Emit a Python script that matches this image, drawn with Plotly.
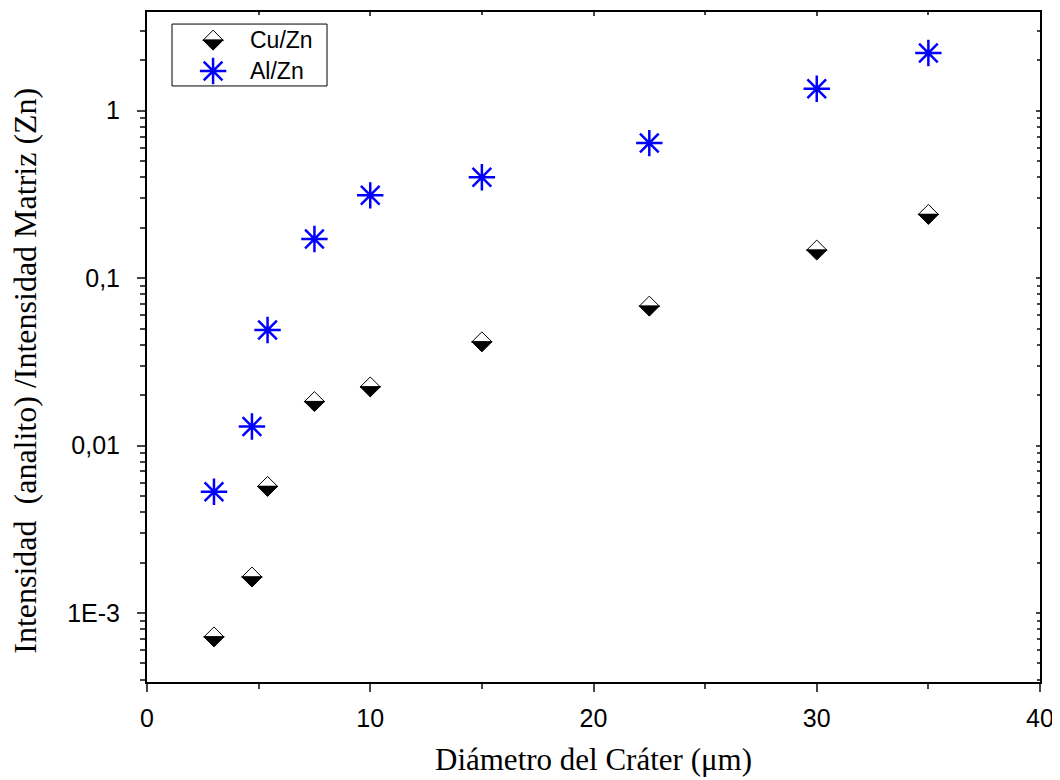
import plotly.graph_objects as go

# crater diameter (um)
diametro = [3, 4.7, 5.4, 7.5, 10, 15, 22.5, 30, 35]
# intensity ratios analyte / matrix (Zn)
cu_zn = [7.2e-4, 1.64e-3, 5.7e-3, 0.0183, 0.0224, 0.0416, 0.068, 0.147, 0.24]
al_zn = [5.3e-3, 0.013, 0.049, 0.171, 0.312, 0.40, 0.64, 1.35, 2.21]

y_tickvals = [1e-3, 1e-2, 1e-1, 1]
y_ticktext = ["1E-3", "0,01", "0,1", "1"]
x_tickvals = [0, 10, 20, 30, 40]
series_names = ["Cu/Zn", "Al/Zn"]

YRANGE = [-3.412, 0.589]
XRANGE = [0, 40]
MARGIN = dict(l=139, r=28, t=4, b=106)
PLOT_H = 780 - MARGIN['t'] - MARGIN['b']

# half-filled diamond: two right triangles rotated 45deg (white top, black bottom).
# plotly centres triangles on their centroid, so nudge each half by 0.4*r px
DIAM_SIZE = 16
half_px = 0.4 * DIAM_SIZE / 2
px_per_decade = PLOT_H / (YRANGE[1] - YRANGE[0])
log_nudge = 10 ** (half_px / px_per_decade)

fig = go.Figure()


def diamond_halves(x, y_top, y_bot, xaxis='x', yaxis='y'):
    top = go.Scatter(
        x=x, y=y_top, mode='markers', showlegend=False, xaxis=xaxis, yaxis=yaxis,
        marker=dict(symbol='triangle-nw', angle=45, size=DIAM_SIZE, color='white',
                    line=dict(color='black', width=1)),
        hoverinfo='skip',
    )
    bottom = go.Scatter(
        x=x, y=y_bot, mode='markers', showlegend=False, xaxis=xaxis, yaxis=yaxis,
        marker=dict(symbol='triangle-se', angle=45, size=DIAM_SIZE, color='black',
                    line=dict(color='black', width=1)),
        hoverinfo='skip',
    )
    return [top, bottom]


for tr in diamond_halves(diametro, [v * log_nudge for v in cu_zn],
                         [v / log_nudge for v in cu_zn]):
    fig.add_trace(tr)

fig.add_trace(go.Scatter(
    x=diametro, y=al_zn, mode='markers', name=series_names[1], showlegend=False,
    marker=dict(symbol='asterisk-open', size=22, color='#0000ff',
                line=dict(color='#0000ff', width=2.5)),
))

# legend drawn on a hidden overlay axis (0..1)
leg_x = [0.074]
leg_y = [0.958, 0.912]
lin_nudge = half_px / PLOT_H
for tr in diamond_halves(leg_x, [leg_y[0] + lin_nudge], [leg_y[0] - lin_nudge],
                         xaxis='x2', yaxis='y2'):
    fig.add_trace(tr)
fig.add_trace(go.Scatter(
    x=leg_x, y=[leg_y[1]], mode='markers', showlegend=False, xaxis='x2', yaxis='y2',
    marker=dict(symbol='asterisk-open', size=22, color='#0000ff',
                line=dict(color='#0000ff', width=2.5)),
    hoverinfo='skip',
))
for name, yy in zip(series_names, leg_y):
    fig.add_annotation(x=0.113, y=yy, xref='x2', yref='y2', text=name,
                       showarrow=False, xanchor='left', yanchor='middle',
                       font=dict(family='Liberation Sans', size=23, color='black'))
fig.add_shape(type='rect', xref='paper', yref='paper',
              x0=0.028, x1=0.2016, y0=0.8896, y1=0.982,
              line=dict(color='black', width=1), fillcolor='rgba(0,0,0,0)')

tickfont = dict(family='Liberation Sans', size=25, color='black')

# axis titles as annotations for exact placement
fig.add_annotation(x=0.5, y=-0.116, xref='paper', yref='paper', showarrow=False,
                   text='Diámetro del Cráter (μm)', xanchor='center', yanchor='middle',
                   font=dict(family='Liberation Serif', size=31, color='black'))
fig.add_annotation(x=-0.137, y=0.464, xref='paper', yref='paper', showarrow=False,
                   text='Intensidad  (analito) /Intensidad Matriz (Zn)', textangle=-90,
                   xanchor='center', yanchor='middle',
                   font=dict(family='Liberation Serif', size=32, color='black'))

fig.update_layout(
    width=1060, height=780,
    margin=MARGIN,
    plot_bgcolor='white', paper_bgcolor='white',
    showlegend=False,
    xaxis=dict(
        range=XRANGE, tickvals=x_tickvals, ticks='outside', ticklen=8, tickwidth=2,
        showline=True, linewidth=2, linecolor='black', showgrid=False, zeroline=False,
        tickfont=tickfont, ticklabelstandoff=5,
        minor=dict(dtick=5, ticks='outside', ticklen=5, tickwidth=2, showgrid=False),
    ),
    yaxis=dict(
        type='log', range=YRANGE, tickvals=y_tickvals, ticktext=y_ticktext,
        ticks='outside', ticklen=8, tickwidth=2,
        showline=True, linewidth=2, linecolor='black', showgrid=False, zeroline=False,
        tickfont=tickfont, ticklabelstandoff=12,
        minor=dict(dtick='D1', ticks='outside', ticklen=5, tickwidth=2, showgrid=False),
    ),
    # mirrored frame with small inside ticks
    xaxis3=dict(
        overlaying='x', side='top', range=XRANGE, tickvals=x_tickvals, showticklabels=False,
        ticks='inside', ticklen=4, tickwidth=1.5, showline=True, linewidth=2,
        linecolor='black', showgrid=False, zeroline=False,
        minor=dict(dtick=5, ticks='inside', ticklen=3, tickwidth=1.5, showgrid=False),
    ),
    yaxis3=dict(
        overlaying='y', side='right', type='log', range=YRANGE, tickvals=y_tickvals,
        showticklabels=False, ticks='inside', ticklen=4, tickwidth=1.5, showline=True,
        linewidth=2, linecolor='black', showgrid=False, zeroline=False,
        minor=dict(dtick='D1', ticks='inside', ticklen=3, tickwidth=1.5, showgrid=False),
    ),
    xaxis2=dict(overlaying='x', range=[0, 1], visible=False),
    yaxis2=dict(overlaying='y', range=[0, 1], visible=False),
)

# dummy trace so the mirror axes are drawn
fig.add_trace(go.Scatter(x=[None], y=[None], xaxis='x3', yaxis='y3', showlegend=False))

fig.write_html("out.html")
